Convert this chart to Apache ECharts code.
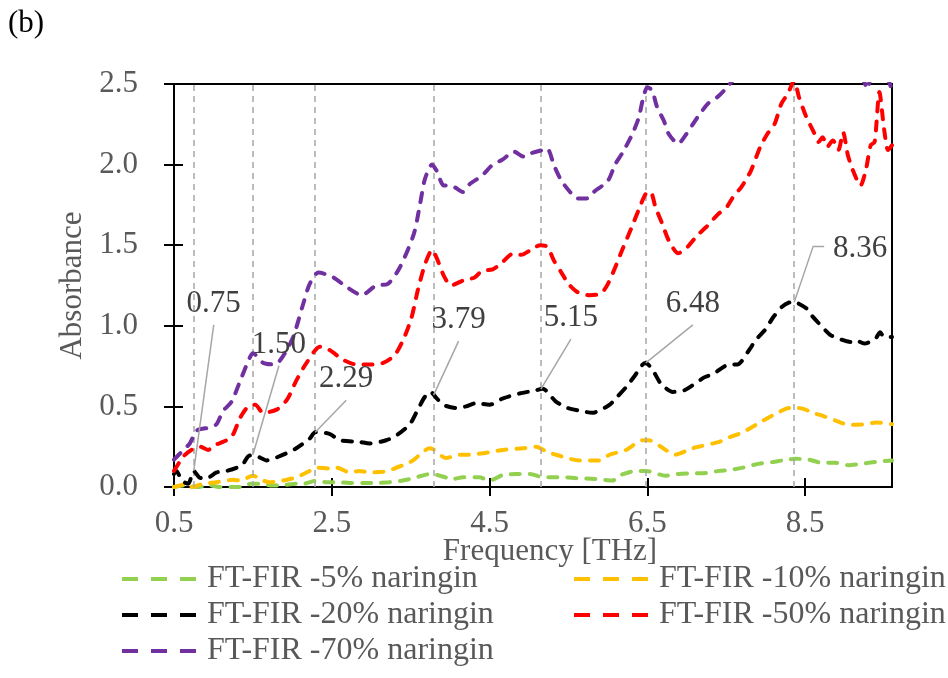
<!DOCTYPE html>
<html><head><meta charset="utf-8">
<script src="https://cdn.jsdelivr.net/npm/echarts@6/dist/echarts.min.js"></script>
<style>html,body{margin:0;padding:0;background:#fff}#main{width:948px;height:678px}</style>
</head><body><div id="main"></div>
<script>
const FONT = '"Liberation Serif","Times New Roman",serif';
const xTickLabels = ['0.5', '2.5', '4.5', '6.5', '8.5'];
const yTickLabels = ['0.0', '0.5', '1.0', '1.5', '2.0', '2.5'];
const seriesNames = ['FT-FIR -5% naringin', 'FT-FIR -10% naringin', 'FT-FIR -20% naringin', 'FT-FIR -50% naringin', 'FT-FIR -70% naringin'];
const seriesColors = ['#92D050', '#FFC000', '#000000', '#FF0000', '#7030A0'];

const freq5 = [0.5,0.63,0.79,0.96,1.08,1.36,1.47,1.6,1.72,1.84,2.05,2.14,2.31,2.43,2.56,2.73,2.9,3.06,3.23,3.4,3.57,3.74,3.83,4.04,4.16,4.37,4.5,4.67,4.84,5.01,5.18,5.43,5.6,5.85,6.06,6.14,6.36,6.48,6.73,6.86,7.07,7.2,7.41,7.54,7.71,7.92,8.09,8.21,8.38,8.55,8.71,8.88,9.05,9.22,9.39,9.6];
const abs5 = [0.0,0.01,0.0,0.01,0.0,0.0,0.02,0.02,0.01,0.01,0.02,0.02,0.04,0.03,0.03,0.025,0.025,0.025,0.03,0.04,0.06,0.08,0.075,0.05,0.06,0.06,0.04,0.075,0.08,0.08,0.06,0.06,0.055,0.05,0.04,0.07,0.10,0.10,0.07,0.08,0.085,0.085,0.10,0.105,0.12,0.145,0.155,0.165,0.175,0.17,0.15,0.15,0.135,0.145,0.155,0.165];

const freq10 = [0.5,0.58,0.66,0.72,0.8,0.87,1.04,1.25,1.34,1.5,1.63,1.71,1.88,2.05,2.22,2.31,2.47,2.56,2.73,2.85,2.98,3.15,3.21,3.4,3.53,3.66,3.74,3.78,3.95,4.12,4.24,4.42,4.67,4.92,5.09,5.22,5.34,5.64,5.89,6.02,6.23,6.44,6.52,6.73,6.84,7.07,7.15,7.41,7.49,7.71,7.96,8.13,8.3,8.42,8.63,8.73,8.95,9.05,9.27,9.4,9.6];
const abs10 = [0.0,0.01,0.02,0.0,0.01,0.02,0.03,0.045,0.04,0.07,0.04,0.03,0.04,0.06,0.10,0.12,0.115,0.12,0.09,0.10,0.09,0.095,0.10,0.135,0.165,0.22,0.24,0.235,0.18,0.20,0.20,0.21,0.23,0.24,0.25,0.22,0.20,0.165,0.165,0.20,0.23,0.29,0.29,0.23,0.20,0.24,0.25,0.28,0.30,0.34,0.41,0.455,0.49,0.49,0.455,0.44,0.40,0.385,0.39,0.40,0.39];

const freq20 = [0.5,0.53,0.6,0.68,0.75,0.82,0.9,1.04,1.17,1.36,1.44,1.5,1.6,1.67,1.73,1.93,2.05,2.22,2.29,2.47,2.6,2.85,2.98,3.19,3.32,3.49,3.59,3.68,3.75,3.83,3.91,4.08,4.2,4.33,4.5,4.67,4.88,5.09,5.17,5.34,5.49,5.68,5.8,6.02,6.1,6.23,6.34,6.44,6.48,6.56,6.67,6.74,6.82,6.97,7.22,7.33,7.54,7.64,7.79,7.87,8.0,8.09,8.21,8.34,8.51,8.59,8.76,8.83,9.08,9.14,9.25,9.39,9.45,9.5,9.6];
const abs20 = [0.08,0.10,0.04,0.02,0.10,0.06,0.05,0.09,0.10,0.135,0.19,0.20,0.18,0.165,0.17,0.21,0.24,0.30,0.34,0.33,0.29,0.28,0.27,0.29,0.32,0.39,0.48,0.56,0.59,0.55,0.51,0.49,0.50,0.52,0.51,0.55,0.58,0.60,0.61,0.53,0.49,0.47,0.46,0.51,0.55,0.62,0.69,0.76,0.77,0.73,0.64,0.61,0.59,0.60,0.68,0.70,0.76,0.76,0.85,0.91,0.98,1.05,1.12,1.15,1.11,1.06,0.97,0.94,0.90,0.91,0.89,0.92,0.96,0.93,0.93];

const freq50 = [0.5,0.62,0.72,0.83,0.93,1.02,1.12,1.23,1.34,1.44,1.53,1.63,1.8,1.93,2.05,2.18,2.35,2.47,2.64,2.81,2.98,3.15,3.3,3.42,3.51,3.59,3.68,3.77,3.83,3.92,4.01,4.16,4.31,4.4,4.54,4.63,4.81,4.9,5.02,5.14,5.23,5.32,5.41,5.5,5.61,5.76,5.91,6.0,6.09,6.18,6.3,6.39,6.48,6.54,6.6,6.69,6.77,6.89,7.01,7.13,7.24,7.39,7.51,7.6,7.69,7.81,7.93,8.02,8.11,8.2,8.28,8.36,8.42,8.51,8.61,8.67,8.72,8.78,8.85,8.92,8.98,9.04,9.1,9.2,9.27,9.33,9.38,9.44,9.5,9.55,9.6];
const abs50 = [0.10,0.19,0.23,0.25,0.23,0.26,0.28,0.31,0.43,0.50,0.51,0.46,0.48,0.54,0.66,0.77,0.87,0.85,0.79,0.76,0.76,0.77,0.82,0.93,1.05,1.22,1.38,1.47,1.42,1.31,1.25,1.28,1.30,1.34,1.35,1.38,1.45,1.44,1.47,1.50,1.49,1.40,1.33,1.26,1.21,1.19,1.20,1.26,1.36,1.47,1.61,1.72,1.82,1.83,1.74,1.63,1.53,1.45,1.49,1.56,1.61,1.69,1.74,1.81,1.86,1.96,2.11,2.19,2.25,2.38,2.44,2.52,2.42,2.30,2.20,2.14,2.17,2.11,2.15,2.09,2.20,2.06,1.97,1.87,1.97,2.12,2.14,2.45,2.22,2.09,2.12];

const freq70 = [0.5,0.6,0.7,0.79,0.96,1.04,1.12,1.23,1.34,1.44,1.5,1.63,1.78,1.88,2.01,2.14,2.22,2.33,2.52,2.69,2.88,3.06,3.21,3.36,3.54,3.62,3.68,3.77,3.83,3.92,4.01,4.16,4.25,4.4,4.54,4.66,4.81,4.93,5.02,5.17,5.23,5.32,5.41,5.52,5.61,5.73,5.82,6.0,6.09,6.18,6.3,6.39,6.44,6.5,6.56,6.62,6.71,6.77,6.89,6.98,7.13,7.27,7.39,7.51,7.63,7.8,8.0,8.2,8.4,8.6,8.8,9.0,9.15,9.24,9.29,9.34,9.45,9.55,9.6];
const abs70 = [0.17,0.22,0.27,0.35,0.37,0.39,0.47,0.53,0.66,0.78,0.83,0.77,0.76,0.81,0.93,1.14,1.26,1.33,1.30,1.24,1.19,1.25,1.26,1.36,1.57,1.76,1.91,2.00,1.96,1.87,1.87,1.83,1.88,1.93,2.00,2.03,2.08,2.05,2.07,2.09,2.10,1.99,1.90,1.83,1.79,1.79,1.83,1.90,2.00,2.07,2.18,2.29,2.40,2.48,2.46,2.36,2.27,2.19,2.13,2.18,2.29,2.38,2.42,2.48,2.55,2.62,2.72,2.80,2.85,2.78,2.70,2.66,2.60,2.52,2.47,2.56,2.62,2.53,2.46];

const peakFreqs = [0.75, 1.50, 2.29, 3.79, 5.15, 6.48, 8.36];
const peakLabels = ['0.75', '1.50', '2.29', '3.79', '5.15', '6.48', '8.36'];
// pixel offsets of label centre relative to the marked point (layout only)
const labelOffsets = [[20,-167],[26,-110],[31,-53],[25,-75],[30,-71],[47,-59],[66,-54]];

const allFreq = [freq5, freq10, freq20, freq50, freq70];
const allAbs = [abs5, abs10, abs20, abs50, abs70];

function zip(xs, ys) { return xs.map((x, i) => [x, ys[i]]); }
function interp(xs, ys, x) {
  for (let i = 0; i < xs.length - 1; i++) {
    if (x >= xs[i] && x <= xs[i + 1]) {
      const t = (x - xs[i]) / (xs[i + 1] - xs[i]);
      return ys[i] + t * (ys[i + 1] - ys[i]);
    }
  }
  return ys[ys.length - 1];
}

const chart = echarts.init(document.getElementById('main'), null, { renderer: 'canvas' });
const textGrey = '#595959';
const axisCommon = { axisLine: { show: true, lineStyle: { color: '#000', width: 2 } } };

const series = seriesNames.map((name, i) => {
  const s = {
    name: name, type: 'line', data: zip(allFreq[i], allAbs[i]),
    symbol: 'none', showSymbol: false, smooth: 0.25, clip: true,
    lineStyle: { color: seriesColors[i], width: 4, type: [9, 10], cap: 'round' },
    itemStyle: { color: seriesColors[i] },
    z: 3 + i
  };
  if (i === 0) {
    s.markLine = {
      silent: true, symbol: ['none', 'none'], animation: false,
      label: { show: false },
      lineStyle: { color: '#A6A6A6', type: [6, 5], width: 1.5 },
      data: peakFreqs.map(v => ({ xAxis: v }))
    };
  }
  return s;
});

const legendCommon = {
  orient: 'vertical', top: 563, padding: 0, itemWidth: 80, itemHeight: 14, itemGap: 4,
  itemStyle: { opacity: 0, borderWidth: 0 },
  lineStyle: { type: [16, 13], width: 4, cap: 'butt' },
  textStyle: { fontFamily: FONT, fontSize: 32, color: textGrey, lineHeight: 32 },
  selectedMode: false
};

chart.setOption({
  animation: false,
  backgroundColor: '#fff',
  grid: { left: 174, right: 56, top: 84, bottom: 191, show: true, borderColor: '#000', borderWidth: 2, backgroundColor: 'transparent' },
  xAxis: [
    Object.assign({
      type: 'value', min: 0.5, max: 9.6, interval: 2, position: 'bottom',
      axisTick: { show: true, inside: false, length: 9, lineStyle: { color: '#000', width: 2 } },
      axisLabel: { show: true, margin: 21, showMaxLabel: false, fontFamily: FONT, fontSize: 31, color: textGrey,
        formatter: v => { const s = v.toFixed(1); return xTickLabels.includes(s) ? s : ''; } },
      splitLine: { show: false }
    }, axisCommon),
    {
      type: 'value', min: 0.5, max: 9.6, interval: 2, position: 'bottom',
      axisLine: { show: false },
      axisTick: { show: true, inside: true, length: 9, lineStyle: { color: '#000', width: 2 } },
      axisLabel: { show: false }, splitLine: { show: false }
    }
  ],
  yAxis: [
    Object.assign({
      type: 'value', min: 0, max: 2.5, interval: 0.5, position: 'left',
      name: 'Absorbance', nameLocation: 'middle', nameGap: 66,
      nameTextStyle: { fontFamily: FONT, fontSize: 31, color: textGrey },
      axisTick: { show: true, inside: false, length: 10, lineStyle: { color: '#000', width: 2 } },
      axisLabel: { show: true, margin: 36, fontFamily: FONT, fontSize: 31, color: textGrey,
        formatter: v => { const s = v.toFixed(1); return yTickLabels.includes(s) ? s : ''; } },
      splitLine: { show: false }
    }, axisCommon),
    {
      type: 'value', min: 0, max: 2.5, interval: 0.5, position: 'left',
      axisLine: { show: false },
      axisTick: { show: true, inside: true, length: 9, lineStyle: { color: '#000', width: 2 } },
      axisLabel: { show: false }, splitLine: { show: false }
    }
  ],
  legend: [
    Object.assign({ left: 120, data: [seriesNames[0], seriesNames[2], seriesNames[4]] }, legendCommon),
    Object.assign({ left: 572, data: [seriesNames[1], seriesNames[3]] }, legendCommon)
  ],
  series: series
});

// annotations: label + leader line, positioned from the data via the chart's scales
const graphics = [
  { type: 'text', left: 8, top: 8, style: { text: '(b)', font: '31px ' + FONT, fill: '#000' } },
  { type: 'text', x: 550, y: 552, style: { text: 'Frequency [THz]', font: '31px ' + FONT, fill: textGrey, align: 'center', verticalAlign: 'middle' } }
];
peakFreqs.forEach((f, i) => {
  const a = interp(freq20, abs20, f);
  const p = chart.convertToPixel({ gridIndex: 0 }, [f, a]);
  const off = labelOffsets[i];
  const lx = p[0] + off[0], ly = p[1] + off[1];
  let pts;
  if (i === peakFreqs.length - 1) {
    pts = [[p[0], p[1]], [p[0] + 19, ly - 2], [lx - 36, ly - 2]];
  } else {
    pts = [[p[0], p[1]], [lx, ly + 21]];
  }
  graphics.push({ type: 'polyline', z: 20, shape: { points: pts }, style: { stroke: '#A6A6A6', lineWidth: 1.5, fill: null } });
  graphics.push({ type: 'text', z: 21, x: lx, y: ly, style: { text: peakLabels[i], font: '31px ' + FONT, fill: '#404040', align: 'center', verticalAlign: 'middle' } });
});
chart.setOption({ graphic: graphics });
</script>
</body></html>
